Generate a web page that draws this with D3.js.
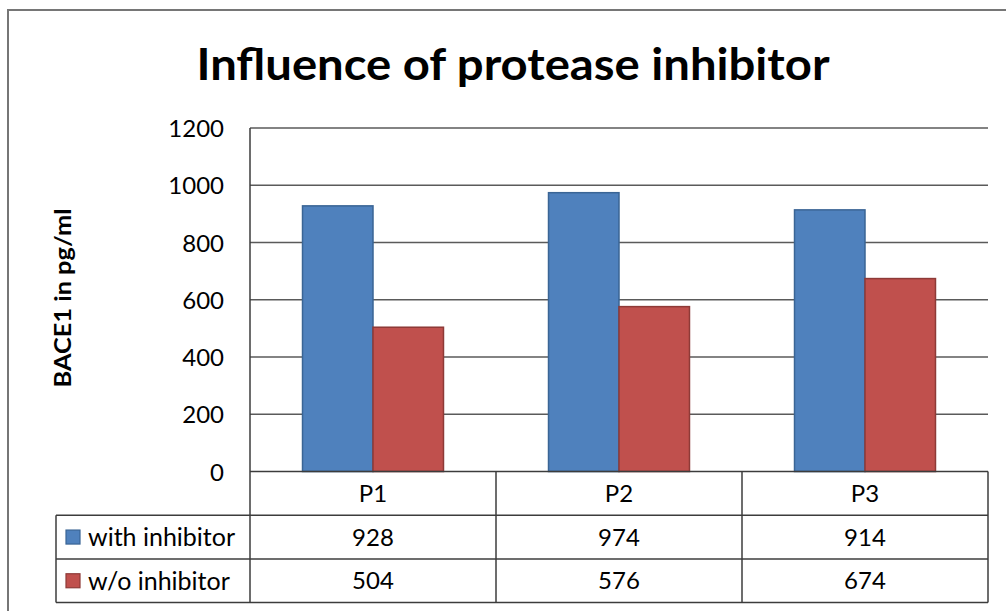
<!DOCTYPE html>
<html><head><meta charset="utf-8">
<script src="https://cdn.jsdelivr.net/npm/d3@7"></script>
<style>html,body{margin:0;padding:0;background:#fff;}svg{display:block;}</style>
</head><body>
<script>
const categories = ["P1", "P2", "P3"];
const seriesNames = ["with inhibitor", "w/o inhibitor"];
const withInhibitor = [928, 974, 914];
const withoutInhibitor = [504, 576, 674];
const yTicks = [0, 200, 400, 600, 800, 1000, 1200];
const seriesColors = ["#4F81BD", "#C0504D"];
const seriesStrokes = ["#3A6595", "#8E3A37"];
const chartTitle = "Influence of protease inhibitor";
const yTitle = "BACE1 in pg/ml";

(function () {
const W = 1006, H = 611;
const font = "Lato, 'Open Sans', sans-serif";
const svg = d3.select("body").append("svg").attr("width", W).attr("height", H);

// outer frame
svg.append("rect").attr("x", 8).attr("y", 10).attr("width", 1010).attr("height", 620)
  .attr("fill", "#fff").attr("stroke", "#767676").attr("stroke-width", 2);

const pLeft = 250, pRight = 988, pTop = 128, pBottom = 471.5;
const x = d3.scaleBand().domain(categories).range([pLeft, pRight]).padding(0);
const xs = d3.scaleBand().domain(seriesNames).range([0, x.bandwidth()]).paddingInner(0).paddingOuter(0.745);
const y = d3.scaleLinear().domain([0, 1200]).range([pBottom, pTop]);

// title
svg.append("text").attr("x", 513).attr("y", 80).attr("text-anchor", "middle")
  .attr("font-family", font).attr("font-weight", "bold").attr("font-size", 44)
  .attr("textLength", 633).attr("lengthAdjust", "spacingAndGlyphs")
  .attr("fill", "#000").text(chartTitle);

// gridlines
svg.append("g").selectAll("line").data(yTicks.filter(d => d > 0)).join("line")
  .attr("x1", pLeft).attr("x2", pRight).attr("y1", d => y(d)).attr("y2", d => y(d))
  .attr("stroke", "#5a5a5a").attr("stroke-width", 1.3);

// y axis labels
const yAxis = d3.axisLeft(y).tickValues(yTicks).tickFormat(d3.format("d")).tickSize(0).tickPadding(0);
const ya = svg.append("g").attr("transform", `translate(224,0)`).call(yAxis);
ya.select(".domain").remove();
ya.selectAll("text").attr("font-family", font).attr("font-size", 24).attr("fill", "#000").attr("dy", "0.36em");

// y title
svg.append("text").attr("transform", `translate(71,298) rotate(-90)`)
  .attr("text-anchor", "middle").attr("font-family", font).attr("font-weight", "bold")
  .attr("font-size", 22).attr("textLength", 179).attr("lengthAdjust", "spacingAndGlyphs")
  .attr("fill", "#000").text(yTitle);

// bars
const data = categories.map((c, i) => ({ c, vals: [withInhibitor[i], withoutInhibitor[i]] }));
const g = svg.append("g");
data.forEach(d => {
  d.vals.forEach((v, j) => {
    g.append("rect")
      .attr("x", x(d.c) + xs(seriesNames[j]))
      .attr("y", y(v))
      .attr("width", xs.bandwidth())
      .attr("height", y(0) - y(v))
      .attr("fill", seriesColors[j])
      .attr("stroke", seriesStrokes[j]).attr("stroke-width", 1.5);
  });
});

// table
const rowH = 43.7;
const tbl = svg.append("g").attr("stroke", "#3c3c3c").attr("stroke-width", 1.5).attr("fill", "none");
const tLeft = 56;
tbl.append("line").attr("x1", pLeft).attr("x2", pRight).attr("y1", pBottom).attr("y2", pBottom);
[1, 2, 3].forEach(k => {
  tbl.append("line").attr("x1", tLeft).attr("x2", pRight).attr("y1", pBottom + k * rowH).attr("y2", pBottom + k * rowH);
});
tbl.append("line").attr("x1", pLeft).attr("x2", pLeft).attr("y1", pTop).attr("y2", pBottom + 3 * rowH);
tbl.append("line").attr("x1", tLeft).attr("x2", tLeft).attr("y1", pBottom + rowH).attr("y2", pBottom + 3 * rowH);
categories.forEach(c => {
  const xr = x(c) + x.bandwidth();
  tbl.append("line").attr("x1", xr).attr("x2", xr).attr("y1", pBottom).attr("y2", pBottom + 3 * rowH);
});

const tf = 24;
svg.append("g").selectAll("text").data(categories).join("text")
  .attr("x", d => x(d) + x.bandwidth() / 2).attr("y", pBottom + rowH / 2)
  .attr("dy", "0.36em").attr("text-anchor", "middle")
  .attr("font-family", font).attr("font-size", tf).attr("fill", "#000").text(d => d);
[withInhibitor, withoutInhibitor].forEach((vals, j) => {
  const cy = pBottom + (j + 1.5) * rowH;
  svg.append("rect").attr("x", 66).attr("y", cy - 7).attr("width", 14).attr("height", 14)
    .attr("fill", seriesColors[j]).attr("stroke", seriesStrokes[j]).attr("stroke-width", 1.2);
  svg.append("text").attr("x", 88).attr("y", cy).attr("dy", "0.36em")
    .attr("font-family", font).attr("font-size", 25).attr("fill", "#000").text(seriesNames[j]);
  svg.append("g").selectAll("text").data(categories).join("text")
    .attr("x", (d) => x(d) + x.bandwidth() / 2).attr("y", cy).attr("dy", "0.36em")
    .attr("text-anchor", "middle").attr("font-family", font).attr("font-size", tf).attr("fill", "#000")
    .text((d, i) => vals[i]);
});
})();
</script>
</body></html>
